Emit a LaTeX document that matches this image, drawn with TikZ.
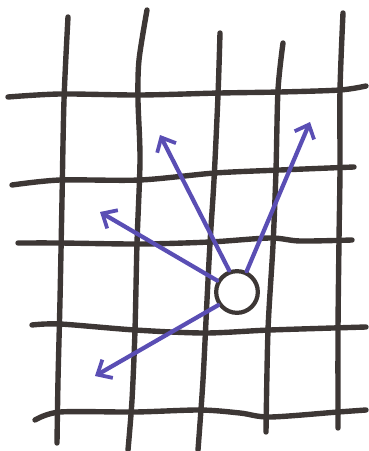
\documentclass[tikz,border=0pt]{standalone}
\usetikzlibrary{arrows.meta}
\definecolor{InkGrey}{HTML}{3D3735}
\definecolor{InkBlue}{HTML}{5A4EB4}

\begin{document}
\begin{tikzpicture}[
    x=0.03cm, y=-0.03cm,
    gridline/.style={draw=InkGrey, line width=4.6pt, line cap=round, line join=round},
    site/.style={circle, draw=InkGrey, line width=3.6pt, minimum size=1.25cm, inner sep=0pt},
    hop/.style={InkBlue, line width=3.6pt, line cap=round, -{Straight Barb[length=10pt, width=18pt, line width=3.2pt]}}
  ]
    \useasboundingbox (0,0) rectangle (369,451);

    % Grid, vertical lines
    \draw[gridline] plot[smooth] coordinates {(68,17) (64,100) (62,200) (60,300) (58,380) (57,443)};
    \draw[gridline] plot[smooth] coordinates {(147,10) (139,60) (138,100) (140,160) (137,243) (135,330) (132,400) (128,450)};
    \draw[gridline] plot[smooth] coordinates {(220,33) (218,95) (214,180) (210,243) (207,300) (203,380) (198,450)};
    \draw[gridline] plot[smooth] coordinates {(283,43) (278,90) (276,170) (273,245) (268,330) (266,432)};
    \draw[gridline] plot[smooth] coordinates {(343,13) (340,90) (340,170) (339,240) (338,330) (338,428)};

    % Grid, horizontal lines
    \draw[gridline] plot[smooth] coordinates {(8,97) (60,94) (140,95) (220,93) (280,92) (340,90) (366,86)};
    \draw[gridline] plot[smooth] coordinates {(12,185) (60,180) (140,180) (215,173) (280,170) (354,167)};
    \draw[gridline] plot[smooth] coordinates {(18,243) (60,243) (140,244) (210,242) (270,238) (300,241) (352,240)};
    \draw[gridline] plot[smooth] coordinates {(32,325) (60,324) (135,330) (205,333) (270,330) (366,327)};
    \draw[gridline] plot[smooth] coordinates {(35,420) (60,412) (135,412) (200,410) (240,413) (270,417) (338,412) (366,410)};

    % Particle and its hops
    \node[site, fill=white] (walker) at (237,292) {};
    \coordinate (upleft) at (160,135);
    \coordinate (upright) at (310,122);
    \coordinate (left) at (100,212);
    \coordinate (downleft) at (95,376);

    \draw[hop] (walker.110) -- (upleft);
    \draw[hop] (walker.65) -- (upright);
    \draw[hop] (walker.150) -- (left);
    \draw[hop] (walker.215) -- (downleft);
\end{tikzpicture}
\end{document}
